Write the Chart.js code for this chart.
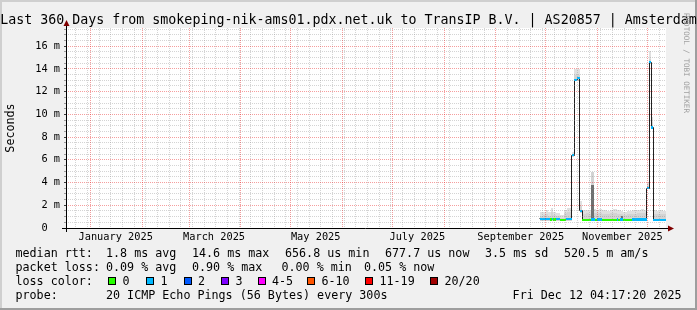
<!DOCTYPE html>
<html><head><meta charset="utf-8">
<script src="https://cdn.jsdelivr.net/npm/chart.js@4.4.1/dist/chart.umd.min.js"></script>
<style>
html,body{margin:0;padding:0;background:#F0F0F0;}
#wrap{position:relative;width:697px;height:310px;overflow:hidden;}
#c{position:absolute;left:0;top:0;}
.tx{position:absolute;white-space:pre;font-family:'DejaVu Sans Mono',monospace;color:#000;}
.box{position:absolute;width:8px;height:8px;box-sizing:border-box;border:1px solid #000;}
</style></head>
<body><div id="wrap"><canvas id="c" width="697" height="310"></canvas></div>
<script>
// ---------------- data ----------------
const medianTimes = [
 '2025-09-27 12:00','2025-10-03 12:00','2025-10-04 12:00','2025-10-05 12:00','2025-10-07 00:00','2025-10-09 12:00','2025-10-13 00:00',
 '2025-10-16 12:00','2025-10-18 06:00','2025-10-20 00:00','2025-10-21 12:00',
 '2025-10-23 00:00','2025-10-28 06:00','2025-10-30 12:00','2025-10-31 18:00','2025-11-03 12:00','2025-11-12 12:00',
 '2025-11-13 12:00','2025-11-14 12:00','2025-11-16 12:00','2025-11-21 12:00',
 '2025-11-30 18:00','2025-12-02 06:00','2025-12-03 09:00','2025-12-04 12:00','2025-12-12 04:17'];
const medianMs = [0.80,0.74,0.80,0.74,0.80,0.72,0.78,
 6.42,13.05,13.20,1.52,
 0.72,0.76,0.72,0.76,0.72,0.76,0.72,0.76,0.72,0.76,
 3.49,14.60,8.85,0.72,0.70];
const lossCount = [1,0,1,0,1,0,1, 1,1,1,1, 0,1,0,1,0,1,0,1,0,1, 1,1,1,1,1];

const smokeTimes = [
 '2025-09-27 12:00','2025-09-29 12:00','2025-10-01 00:00','2025-10-02 12:00','2025-10-04 00:00','2025-10-05 12:00',
 '2025-10-07 06:00','2025-10-09 12:00','2025-10-11 18:00','2025-10-13 18:00','2025-10-16 12:00','2025-10-18 06:00',
 '2025-10-21 12:00','2025-10-23 00:00','2025-10-25 00:00','2025-10-27 00:00','2025-10-28 06:00','2025-10-29 18:00',
 '2025-10-31 00:00','2025-11-02 00:00','2025-11-04 00:00','2025-11-06 12:00','2025-11-08 12:00','2025-11-10 12:00',
 '2025-11-12 12:00','2025-11-15 00:00','2025-11-16 12:00','2025-11-19 00:00','2025-11-21 12:00','2025-11-24 12:00',
 '2025-11-27 00:00','2025-11-29 00:00','2025-11-30 18:00','2025-12-02 06:00','2025-12-03 09:00','2025-12-04 12:00',
 '2025-12-06 12:00','2025-12-08 12:00','2025-12-10 12:00','2025-12-12 04:17'];
const smokeLowMs  = [0.62,0.62,0.62,0.62,0.62,0.62,0.62,0.62,0.62,0.62,6.25,12.90,
 1.35,0.62,0.62,0.62,0.62,0.62,0.62,0.62,0.62,0.62,0.62,0.62,
 0.62,0.62,0.62,0.62,0.62,0.62,0.62,0.62,3.40,14.40,8.70,0.62,
 0.62,0.62,0.62,0.62];
const smokeMidMs  = [1.10,1.15,1.25,1.10,1.40,1.15,1.05,0.90,1.30,1.40,6.50,13.45,
 1.90,1.25,1.30,1.20,4.90,1.35,1.30,1.35,1.25,1.20,1.30,1.35,
 1.25,1.20,1.15,1.20,1.25,1.30,1.35,1.30,3.70,14.90,9.30,1.25,
 1.20,1.25,1.20,1.20];
const smokeHighMs = [1.38,1.45,1.55,1.40,1.75,1.45,1.35,1.12,1.62,1.72,6.65,14.00,
 2.40,1.55,1.62,1.50,4.95,1.68,1.62,1.70,1.60,1.50,1.62,1.68,
 1.55,1.50,1.42,1.48,1.58,1.62,1.68,1.62,3.96,15.55,9.80,1.55,
 1.50,1.58,1.50,1.50];
const smokeCoreMs = [null,null,null,null,null,null,null,null,null,null,null,null,
 null,null,null,null,3.80,0.62,null,null,null,null,null,null,
 null,1.10,0.62,null,null,null,null,null,null,null,null,null,
 null,null,null,null];

const yTickValues = [0,2,4,6,8,10,12,14,16];
const yTickLabels = ['0  ','2 m','4 m','6 m','8 m','10 m','12 m','14 m','16 m'];
const xTickDates  = ['2025-01-16','2025-03-16','2025-05-16','2025-07-16','2025-09-16','2025-11-16'];
const xTickLabels = ['January 2025','March 2025','May 2025','July 2025','September 2025','November 2025'];
const lossLegendLabels = ['0','1','2','3','4-5','6-10','11-19','20/20'];
const lossLegendColors = ['#26ff00','#00b8ff','#0059ff','#7e00ff','#ff00ff','#ff5500','#ff0000','#a00000'];

// ---------------- helpers ----------------
const T = s => Date.parse(s.replace(' ', 'T') + (s.length > 10 ? ':00Z' : 'T00:00:00Z'));
const tMin = Date.UTC(2024, 11, 17, 4, 17, 20);
const tMax = Date.UTC(2025, 11, 12, 4, 17, 20);
const DAY = 864e5;
const monthStarts = []; for (let m = 0; m < 12; m++) monthStarts.push(Date.UTC(2025, m, 1));
const weekStarts = []; for (let t = Date.UTC(2024, 11, 23); t < tMax; t += 7 * DAY) weekStarts.push(t);
const yGrid = []; for (let v = 0; v <= 17.5; v += 0.5) yGrid.push(v);
const GRID = 'rgba(143,143,143,0.38)';
const MGRID = 'rgba(229,0,0,0.38)';
const W = 0.1;
function lossIdx(n){ if(n<=3) return n; if(n<=5) return 4; if(n<=10) return 5; if(n<=19) return 6; return 7; }
const pts = (times, vals) => times.map((t, i) => ({x: T(t), y: vals[i]}));
const common = {pointRadius: 0, pointHoverRadius: 0, borderWidth: 0, stepped: 'before', xAxisID: 'x', yAxisID: 'y'};
const axisFont = {family: 'DejaVu Sans Mono', size: 10.3};
const legFont = {family: 'DejaVu Sans Mono', size: 11.7};

// snap computed element positions to the pixel grid, like rrdtool's raster output
const pixelSnap = {
  id: 'pixelSnap',
  afterDatasetsUpdate(chart) {
    chart.data.datasets.forEach((ds, i) => {
      const meta = chart.getDatasetMeta(i);
      const line = ds.label === 'median';
      meta.data.forEach(el => {
        if (el.skip) return;
        if (line) { el.x = Math.floor(el.x) + 0.5; el.y = Math.floor(el.y) + 0.5; }
        else { el.x = Math.round(el.x); el.y = Math.round(el.y); }
      });
    });
  }
};

const rrdFrame = {
  id: 'rrdFrame',
  beforeDraw(chart) {
    const {ctx, chartArea: a} = chart;
    ctx.save();
    ctx.fillStyle = '#F0F0F0'; ctx.fillRect(0, 0, 697, 310);
    ctx.fillStyle = '#FFFFFF'; ctx.fillRect(a.left, a.top, a.right - a.left, a.bottom - a.top);
    ctx.fillStyle = '#CFCFCF'; ctx.fillRect(0, 0, 697, 2); ctx.fillRect(0, 0, 2, 310);
    ctx.fillStyle = '#9E9E9E'; ctx.fillRect(0, 308, 697, 2); ctx.fillRect(695, 0, 2, 310);
    ctx.restore();
  },
  afterDraw(chart) {
    const {ctx, chartArea: a} = chart;
    ctx.save();
    ctx.strokeStyle = '#000'; ctx.lineWidth = 1;
    ctx.beginPath();
    ctx.moveTo(a.left - 4, a.bottom + 0.5); ctx.lineTo(a.right + 3, a.bottom + 0.5);
    ctx.moveTo(a.left + 0.5, a.bottom + 4); ctx.lineTo(a.left + 0.5, a.top - 3);
    ctx.stroke();
    ctx.fillStyle = '#7F0000';
    ctx.beginPath();
    ctx.moveTo(a.right + 2, a.bottom - 2.5); ctx.lineTo(a.right + 8, a.bottom + 0.5); ctx.lineTo(a.right + 2, a.bottom + 3.5);
    ctx.closePath(); ctx.fill();
    ctx.beginPath();
    ctx.moveTo(a.left - 2.5, a.top - 2); ctx.lineTo(a.left + 0.5, a.top - 8); ctx.lineTo(a.left + 3.5, a.top - 2);
    ctx.closePath(); ctx.fill();
    ctx.restore();
  }
};

new Chart(document.getElementById('c'), {
  type: 'line',
  data: {
    datasets: [
      Object.assign({label: 'smokeLow', data: pts(smokeTimes, smokeLowMs), fill: false, order: 60}, common),
      Object.assign({label: 'smokeHigh', data: pts(smokeTimes, smokeHighMs), fill: 0, backgroundColor: '#e0e0e0', order: 50}, common),
      Object.assign({label: 'smokeMid', data: pts(smokeTimes, smokeMidMs), fill: 0, backgroundColor: '#d3d3d3', order: 40}, common),
      Object.assign({label: 'smokeCore', data: pts(smokeTimes, smokeCoreMs), fill: 0, backgroundColor: '#707070', spanGaps: false, order: 30}, common),
      Object.assign({}, common, {label: 'median', data: pts(medianTimes, medianMs), fill: false, borderColor: '#202020', borderWidth: 1, order: 20}),
      Object.assign({label: 'bandLow', data: medianTimes.map((t, i) => ({x: T(t), y: medianMs[i] - W})), fill: false, order: 16}, common),
      Object.assign({label: 'bandHigh', data: medianTimes.map((t, i) => ({x: T(t), y: medianMs[i] + W})), fill: 5,
        backgroundColor: lossLegendColors[1],
        segment: {backgroundColor: c => lossLegendColors[lossIdx(lossCount[c.p0DataIndex])]}, order: 10}, common)
    ]
  },
  options: {
    responsive: false, animation: false, devicePixelRatio: 1,
    events: [],
    layout: {padding: {top: 28, right: 31, bottom: 0, left: 0}},
    plugins: {legend: {display: false}, tooltip: {enabled: false}, title: {display: false}},
    scales: {
      x: {
        type: 'linear', position: 'bottom', min: tMin, max: tMax,
        afterBuildTicks: s => { s.ticks = monthStarts.map(v => ({value: v})); },
        afterFit: s => { s.height = 0; },
        ticks: {display: false},
        grid: {color: MGRID, lineWidth: 1, drawTicks: false, z: 2},
        border: {display: false, dash: [1, 1]}
      },
      xw: {
        type: 'linear', position: 'bottom', min: tMin, max: tMax,
        afterBuildTicks: s => { s.ticks = weekStarts.filter(v => monthStarts.indexOf(v) < 0).map(v => ({value: v})); },
        afterFit: s => { s.height = 0; },
        ticks: {display: false},
        grid: {color: GRID, lineWidth: 1, drawTicks: false, z: 1},
        border: {display: false, dash: [1, 1]}
      },
      xl: {
        type: 'linear', position: 'bottom', min: tMin, max: tMax,
        afterBuildTicks: s => { s.ticks = xTickDates.map(d => ({value: T(d)})); },
        afterFit: s => { s.height = 82; },
        grid: {display: false, drawTicks: false},
        border: {display: false},
        ticks: {autoSkip: false, maxRotation: 0, minRotation: 0, padding: 3, font: axisFont, color: '#000',
          callback: (v, i) => xTickLabels[i]}
      },
      y: {
        type: 'linear', position: 'left', min: 0, max: 17.6,
        afterBuildTicks: s => { s.ticks = yGrid.map(v => ({value: v})); },
        afterFit: s => { s.width = 66; },
        grid: {z: 1, lineWidth: 1, drawTicks: true, tickLength: 2,
          color: c => (yTickValues.indexOf(c.tick.value) >= 0 ? MGRID : GRID),
          tickColor: c => (yTickValues.indexOf(c.tick.value) >= 0 ? 'rgba(0,0,0,0.75)' : 'rgba(0,0,0,0.35)'),
          tickBorderDash: []},
        border: {display: false, dash: [1, 1]},
        ticks: {autoSkip: false, padding: 4, font: axisFont, color: '#000',
          callback: v => { const k = yTickValues.indexOf(v); return k >= 0 ? yTickLabels[k] : ''; }},
        title: {display: true, text: 'Seconds', font: legFont, color: '#000', padding: {top: 4, bottom: 0}}
      }
    }
  },
  plugins: [pixelSnap, rrdFrame]
});

// ---------------- text (title / legend / watermark) ----------------
const wrap = document.getElementById('wrap');
const mctx = document.createElement('canvas').getContext('2d');
function fm(fs){ mctx.font = fs + 'px "DejaVu Sans Mono"'; const m = mctx.measureText('Hg'); return {a: m.fontBoundingBoxAscent, d: m.fontBoundingBoxDescent}; }
function addText(str, x, base, fs, align, color) {
  const {a, d} = fm(fs);
  const el = document.createElement('div');
  el.className = 'tx'; el.textContent = str;
  el.style.fontSize = fs + 'px'; el.style.lineHeight = (a + d) + 'px';
  el.style.top = (base - a) + 'px';
  if (color) el.style.color = color;
  if (align === 'right') el.style.right = (697 - x) + 'px';
  else if (align === 'center') { el.style.left = (x - 600) + 'px'; el.style.width = '1200px'; el.style.textAlign = 'center'; }
  else el.style.left = x + 'px';
  wrap.appendChild(el);
  return el;
}
addText('Last 360 Days from smokeping-nik-ams01.pdx.net.uk to TransIP B.V. | AS20857 | Amsterdam', 348.5, 24, 13.3, 'center');

const LF = 11.7;
const line1 = [[15.5,'median rtt:'],[106,'1.8 ms avg'],[192,'14.6 ms max'],[285,'656.8 us min'],[385,'677.7 us now'],[485,'3.5 ms sd'],[564,'520.5 m am/s']];
const line2 = [[15.5,'packet loss:'],[106,'0.09 % avg'],[192,'0.90 % max'],[281.5,'0.00 % min'],[364,'0.05 % now']];
line1.forEach(([x, s]) => addText(s, x, 257, LF));
line2.forEach(([x, s]) => addText(s, x, 271, LF));
addText('loss color:', 15.5, 285, LF);
const boxX = [108, 146, 183.5, 221, 257.5, 307, 365, 430];
lossLegendLabels.forEach((lab, i) => {
  const b = document.createElement('div');
  b.className = 'box'; b.style.left = boxX[i] + 'px'; b.style.top = '277px'; b.style.background = lossLegendColors[i];
  wrap.appendChild(b);
  addText(lab, boxX[i] + 14.5, 285, LF);
});
addText('probe:', 15.5, 299, LF);
addText('20 ICMP Echo Pings (56 Bytes) every 300s', 106, 299, LF);
addText('Fri Dec 12 04:17:20 2025', 681.5, 299, LF, 'right');

const wm = addText('RRDTOOL / TOBI OETIKER', 0, 0, 7.55, null, '#a0a0a0');
const wa = fm(7.55).a;
wm.style.left = (684 + wa) + 'px'; wm.style.top = '12.8px';
wm.style.transformOrigin = '0 0'; wm.style.transform = 'rotate(90deg)';
</script></body></html>
